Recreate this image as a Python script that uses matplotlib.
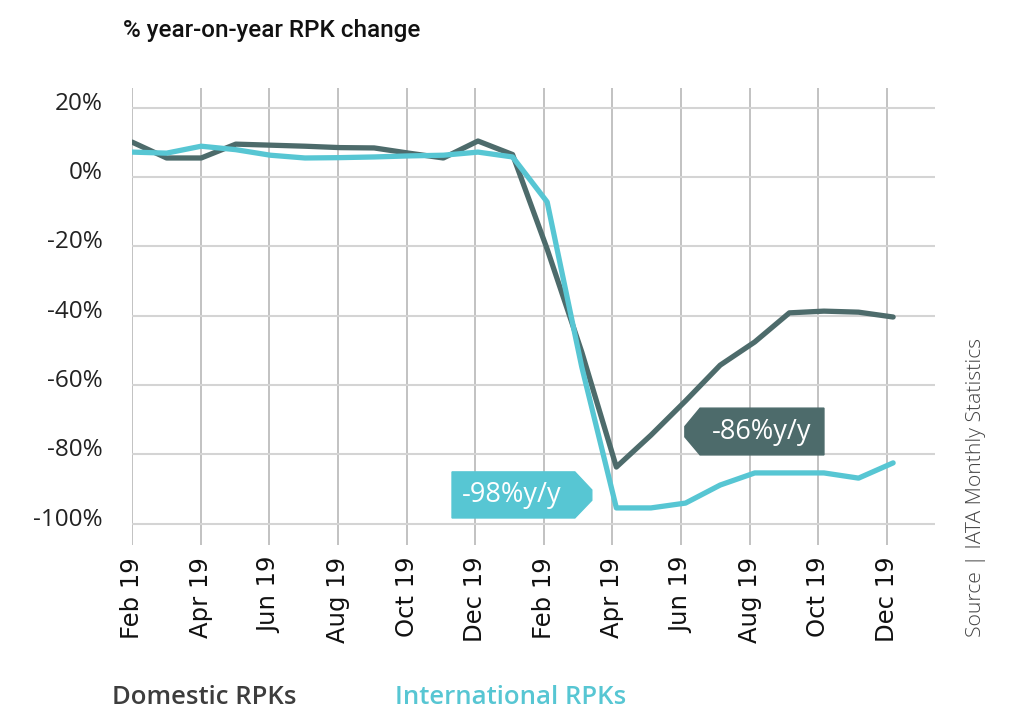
import matplotlib

matplotlib.use("Agg")
import matplotlib.pyplot as plt
import numpy as np
from matplotlib.patches import Polygon
from matplotlib.transforms import ScaledTranslation

# monthly % y/y RPK change, Feb 2019 .. Dec 2020
domestic = [10.1, 5.5, 5.5, 9.5, 9.2, 8.9, 8.5, 8.4, 6.9, 5.5, 10.4, 6.5,
            -20.8, -50.5, -83.7, -74.5, -64.6, -54.3, -47.6, -39.2, -38.7, -39.0, -40.4]
international = [7.2, 6.9, 8.9, 7.9, 6.3, 5.5, 5.6, 5.8, 6.1, 6.3, 7.2, 5.8,
                 -7.2, -54.8, -95.5, -95.5, -94.1, -88.9, -85.4, -85.4, -85.4, -86.9, -82.5]
month_labels = ["Feb 19", "Apr 19", "Jun 19", "Aug 19", "Oct 19", "Dec 19",
                "Feb 19", "Apr 19", "Jun 19", "Aug 19", "Oct 19", "Dec 19"]
y_ticks = [20, 0, -20, -40, -60, -80, -100]

DOM = "#4d6b6b"
INTL = "#57c6d3"

fig = plt.figure(figsize=(10.15, 7.11), dpi=100)
ax = fig.add_axes([132 / 1015, 166 / 711, 803 / 1015, 457 / 711])

x = np.arange(len(domestic))
ax.plot(x, domestic, color=DOM, lw=3.8, solid_capstyle="round", zorder=3)
ax.plot(x, international, color=INTL, lw=3.8, solid_capstyle="round", zorder=4)

ax.set_xlim(0, 23.21)
ax.set_ylim(-106.2, 25.7)
# the source's gridlines sit a touch tighter than two data months
ax.set_xticks(np.arange(12) * 2 * 0.992)
ax.set_xticklabels(month_labels, rotation=90, fontsize=17.5, color="#111111",
                   va="top", ha="center")
ax.set_yticks(y_ticks)
ax.set_yticklabels([f"{v}%" for v in y_ticks], fontsize=17.5, color="#222222",
                   family="Open Sans")
ax.tick_params(axis="x", length=0, pad=8.5)
ax.tick_params(axis="y", length=0, pad=21)
shift = ScaledTranslation(0, 7 / 100, fig.dpi_scale_trans)
for lab in ax.get_yticklabels():
    lab.set_transform(lab.get_transform() + shift)

ax.grid(axis="x", color="#bdbdbd", lw=1.3)
ax.grid(axis="y", color="#d4d4d4", lw=1.5)
ax.set_axisbelow(True)
for s in ax.spines.values():
    s.set_visible(False)

# tag labels
dom_tag = [(16.42, -66.7), (20.0, -66.7), (20.0, -80.2), (16.42, -80.2),
           (15.98, -75.0), (15.98, -72.0)]
ax.add_patch(Polygon(dom_tag, closed=True, color=DOM, zorder=5, clip_on=False))
ax.text(18.2, -73.6, "-86%y/y", color="white", fontsize=19.5, family="Open Sans",
        ha="center", va="center", zorder=6)

intl_tag = [(9.25, -85.1), (12.8, -85.1), (13.29, -90.3), (13.29, -93.3),
            (12.8, -98.4), (9.25, -98.4)]
ax.add_patch(Polygon(intl_tag, closed=True, color=INTL, zorder=5, clip_on=False))
ax.text(10.98, -91.8, "-98%y/y", color="white", fontsize=19.5, family="Open Sans",
        ha="center", va="center", zorder=6)

fig.text(123 / 1015, 1 - 30 / 711, "% year-on-year RPK change", fontsize=17.5,
         family="Roboto", weight="medium", color="#111111", ha="left", va="center")
fig.text(112 / 1015, 14 / 711, "Domestic RPKs", fontsize=18.5, family="Open Sans",
         weight="semibold", color="#3d3d3d", ha="left", va="center")
fig.text(395 / 1015, 14 / 711, "International RPKs", fontsize=18.5, family="Open Sans",
         weight="semibold", color=INTL, ha="left", va="center")
fig.text(976 / 1015, 1 - 487 / 711, "Source | IATA Monthly Statistics", fontsize=15.2,
         family="Open Sans", weight="light", color="#444444", rotation=90,
         ha="center", va="center")

fig.savefig("out.png", dpi=100)
